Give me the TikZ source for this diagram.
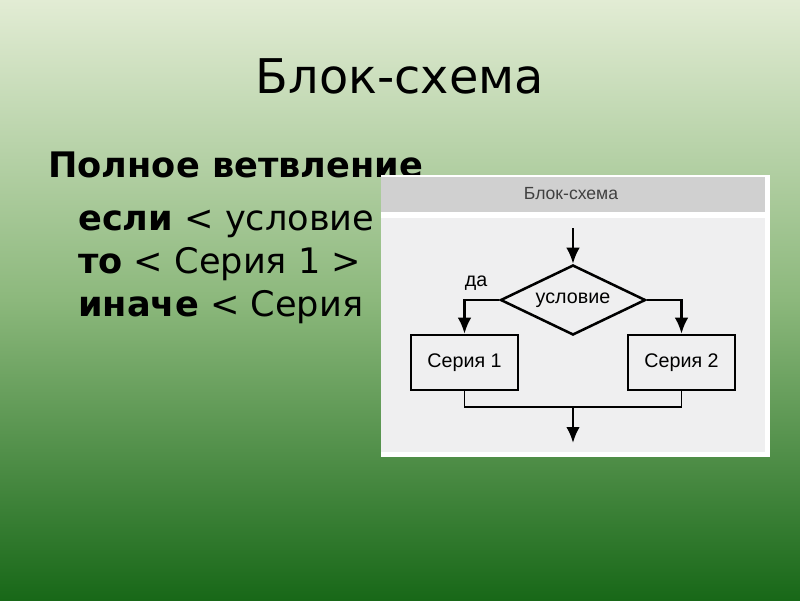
\documentclass[tikz,border=0pt]{standalone}
\usepackage{fontspec}
\setmainfont{DejaVu Sans}
\newfontfamily\schemefont{Liberation Sans}
\usetikzlibrary{shapes.geometric, arrows.meta, positioning}

\definecolor{bgtop}{RGB}{226,236,212}
\definecolor{bgmid}{RGB}{140,184,124}
\definecolor{bgbot}{RGB}{24,104,24}
\definecolor{panelhead}{RGB}{208,208,208}
\definecolor{panelbody}{RGB}{239,239,240}

\begin{document}
\begin{tikzpicture}[
    x=0.025cm, y=-0.025cm,
    slidetext/.style={anchor=base west, inner sep=0pt, font=\fontsize{25}{29}\selectfont},
    series/.style={rectangle, draw, line width=1.8pt, minimum width=2.675cm, minimum height=1.375cm, font=\schemefont\fontsize{14}{16}\selectfont},
    cond/.style={diamond, draw, line width=1.8pt, inner sep=0pt, shape aspect=2.07, minimum width=3.625cm, minimum height=1.75cm, font=\schemefont\fontsize{14}{16}\selectfont},
    flow/.style={line width=1.8pt, -{Latex[length=4mm, width=3.4mm]}}
]
% background
\shade[top color=bgtop, bottom color=bgbot, middle color=bgmid] (0,0) rectangle (800,600);
\useasboundingbox (0,0) rectangle (800,600);

% slide text
\node[inner sep=0pt, anchor=base, font=\fontsize{34}{40}\selectfont] (title) at (400,93) {Блок-схема};
\node[slidetext, font=\bfseries\fontsize{25}{29}\selectfont] (full) at (48,177) {Полное ветвление};
\node[slidetext] (line1) at (78,230) {\textbf{если} < условие};
\node[slidetext] (line2) at (78,273) {\textbf{то} < Серия 1 >};
\node[slidetext] (line3) at (78,316) {\textbf{иначе} < Серия};

% picture panel
\fill[white] (381,175) rectangle (770,457);
\fill[panelhead] (381,177) rectangle (765,212);
\fill[panelbody] (381,218) rectangle (765,452);
\node[font=\schemefont\fontsize{12.5}{14}\selectfont, text=black!75] (head) at (571,194) {Блок-схема};

% flowchart
\coordinate (start) at (573,228);
\node[cond] (test) at (573,300) {условие};
\node[series] (s1) at (464.5,362.5) {Серия 1};
\node[series] (s2) at (681.5,362.5) {Серия 2};
\node[font=\schemefont\fontsize{14}{16}\selectfont] (yes) at (476,283) {да};
\coordinate (join) at (573,407);
\coordinate (finish) at (573,443);

\draw[flow] (start) -- (test);
\draw[flow] (test.west) -| (s1);
\draw[flow] (test.east) -| (s2);
\draw[line width=0.8pt] (s1.south) |- (join) -| (s2.south);
\draw[flow] (join) -- (finish);

\end{tikzpicture}
\end{document}
